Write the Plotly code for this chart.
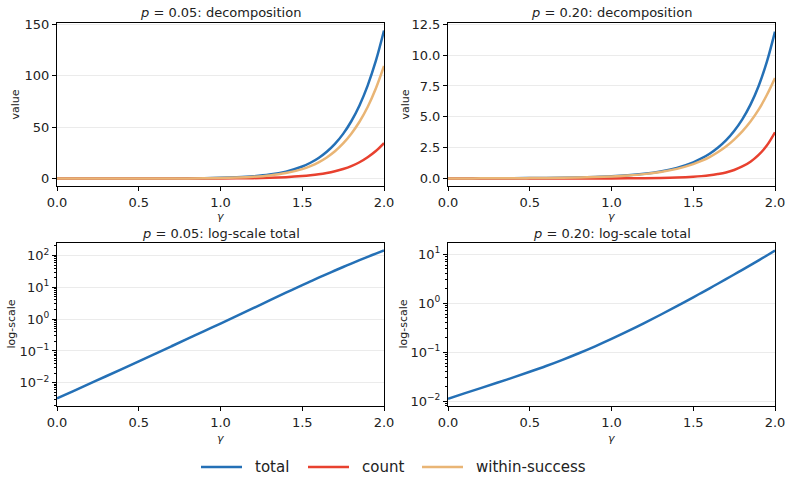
import plotly.graph_objects as go

gamma = [0.0, 0.1, 0.2, 0.3, 0.4, 0.5, 0.6, 0.7, 0.8, 0.9, 1.0,
         1.1, 1.2, 1.3, 1.4, 1.5, 1.55, 1.6, 1.65, 1.7, 1.75, 1.8, 1.85, 1.9, 1.95, 2.0]

# p = 0.05
total_05 = [0.00324, 0.00551, 0.0094, 0.01607, 0.02754, 0.0473, 0.0815, 0.1406, 0.2432, 0.4217, 0.7244,
            1.259, 2.203, 3.873, 6.776, 11.72, 15.38, 20.04, 26.06, 33.73, 43.45, 55.72, 71.12, 90.36, 114.3, 143.9]
count_05 = [0.0007, 0.0012, 0.002, 0.0035, 0.006, 0.01, 0.017, 0.029, 0.049, 0.083, 0.14,
            0.24, 0.42, 0.78, 1.42, 2.5, 3.25, 4.2, 5.5, 7.2, 9.3, 12.1, 15.9, 20.8, 26.8, 34.5]
within_05 = [0.00254, 0.00431, 0.0074, 0.01257, 0.02154, 0.0373, 0.0645, 0.1116, 0.1942, 0.3387, 0.5844,
             1.019, 1.783, 3.093, 5.356, 9.22, 12.13, 15.84, 20.56, 26.53, 34.15, 43.62, 55.22, 69.56, 87.5, 109.4]

# p = 0.20
total_20 = [0.0112, 0.01435, 0.0184, 0.02365, 0.0305, 0.0397, 0.0522, 0.0698, 0.0951, 0.1318, 0.1862,
            0.268, 0.392, 0.581, 0.871, 1.318, 1.63, 2.014, 2.50, 3.097, 3.86, 4.80, 5.99, 7.50, 9.45, 11.9]
count_20 = [0.0002, 0.0003, 0.0004, 0.0006, 0.0009, 0.0013, 0.002, 0.003, 0.0045, 0.007, 0.011,
            0.018, 0.03, 0.05, 0.085, 0.15, 0.20, 0.27, 0.37, 0.50, 0.70, 0.98, 1.37, 1.92, 2.68, 3.75]
within_20 = [0.0110, 0.01405, 0.0180, 0.02305, 0.0296, 0.0384, 0.0502, 0.0668, 0.0906, 0.1248, 0.1752,
             0.250, 0.362, 0.531, 0.786, 1.168, 1.43, 1.744, 2.13, 2.597, 3.16, 3.82, 4.62, 5.58, 6.77, 8.15]

x_ticks = [0.0, 0.5, 1.0, 1.5, 2.0]
x_ticktext = ["0.0", "0.5", "1.0", "1.5", "2.0"]
y_ticks_tl = [0, 50, 100, 150]
y_ticks_tr = [0.0, 2.5, 5.0, 7.5, 10.0, 12.5]
y_ticktext_tr = ["0.0", "2.5", "5.0", "7.5", "10.0", "12.5"]
log_ticks_bl = [0.01, 0.1, 1, 10, 100]
log_text_bl = ["10<sup>−2</sup>", "10<sup>−1</sup>", "10<sup>0</sup>", "10<sup>1</sup>", "10<sup>2</sup>"]
log_ticks_br = [0.01, 0.1, 1, 10]
log_text_br = ["10<sup>−2</sup>", "10<sup>−1</sup>", "10<sup>0</sup>", "10<sup>1</sup>"]

series_names = ["total", "count", "within-success"]
colors = {"total": "#2470b6", "count": "#e8412f", "within-success": "#e9b575"}

W, H = 790, 479
FONT = "DejaVu Sans, sans-serif"

# minor tick positions for log axes (2..9 x each decade)
minor_log_vals = [m * 10.0 ** e for e in range(-3, 3) for m in range(2, 10)]

fig = go.Figure()

def add(x, y, name, xa, ya):
    fig.add_trace(go.Scatter(x=x, y=y, mode="lines", name=name,
                             line=dict(color=colors[name], width=2.5, shape="spline", smoothing=1.0),
                             xaxis=xa, yaxis=ya, showlegend=False, legendgroup=name))

add(gamma, total_05, "total", "x", "y")
add(gamma, count_05, "count", "x", "y")
add(gamma, within_05, "within-success", "x", "y")
add(gamma, total_20, "total", "x2", "y2")
add(gamma, count_20, "count", "x2", "y2")
add(gamma, within_20, "within-success", "x2", "y2")
add(gamma, total_05, "total", "x3", "y3")
add(gamma, total_20, "total", "x4", "y4")

L = [57 / W, 384 / W]
R = [448 / W, 775 / W]
T = [1 - 186 / H, 1 - 23 / H]
B = [1 - 406 / H, 1 - 243 / H]

base_axis = dict(showline=True, linecolor="black", linewidth=1, mirror=True,
                 ticks="outside", ticklen=4, tickwidth=1, tickcolor="black",
                 tickfont=dict(family=FONT, size=13, color="#222"),
                 zeroline=False, automargin=False)

def xaxis(domain, anchor):
    return dict(base_axis, domain=domain, anchor=anchor, range=[0, 2],
                tickvals=x_ticks, ticktext=x_ticktext, showgrid=False)

def yaxis(domain, anchor, **kw):
    d = dict(base_axis, domain=domain, anchor=anchor, showgrid=True,
             gridcolor="#ebebeb", gridwidth=1)
    d.update(kw)
    return d

minor_log = dict(tickvals=minor_log_vals, ticks="outside", ticklen=2, tickwidth=0.8,
                 tickcolor="black", showgrid=False)

fig.update_layout(
    width=W, height=H,
    margin=dict(l=0, r=0, t=0, b=0),
    paper_bgcolor="white", plot_bgcolor="white",
    font=dict(family=FONT, color="#222"),
    showlegend=False,
    xaxis=xaxis(L, "y"),
    yaxis=yaxis(T, "x", range=[-7.2, 151.2], tickvals=y_ticks_tl),
    xaxis2=xaxis(R, "y2"),
    yaxis2=yaxis(T, "x2", range=[-0.6, 12.6], tickvals=y_ticks_tr, ticktext=y_ticktext_tr),
    xaxis3=xaxis(L, "y3"),
    yaxis3=yaxis(B, "x3", type="log", range=[-2.728, 2.391], tickvals=log_ticks_bl,
                 ticktext=log_text_bl, minor=minor_log),
    xaxis4=xaxis(R, "y4"),
    yaxis4=yaxis(B, "x4", type="log", range=[-2.10, 1.23], tickvals=log_ticks_br,
                 ticktext=log_text_br, minor=minor_log),
)

def ann(text, x, y, size, angle=0, xanchor="center"):
    fig.add_annotation(text=text, x=x / W, y=1 - y / H, xref="paper", yref="paper",
                       showarrow=False, xanchor=xanchor, yanchor="middle", textangle=angle,
                       font=dict(family=FONT, size=size, color="#222"))

titles = [("<i>p</i> = 0.05: decomposition", 220.5, 12),
          ("<i>p</i> = 0.20: decomposition", 611.5, 12),
          ("<i>p</i> = 0.05: log-scale total", 220.5, 233),
          ("<i>p</i> = 0.20: log-scale total", 611.5, 233)]
for t, x, y in titles:
    ann(t, x, y, 13)

for x, y in [(220.5, 216.5), (611.5, 216.5), (220.5, 438.5), (611.5, 438.5)]:
    ann("<i>γ</i>", x, y, 11)

ann("value", 15, 104.5, 11, -90)
ann("value", 405, 104.5, 11, -90)
ann("log-scale", 11, 324.5, 11, -90)
ann("log-scale", 403, 324.5, 11, -90)

# legend (drawn below the panels, matching the reference layout)
legend_x = [201, 308, 422]
LEG_Y = 467
for name, lx in zip(series_names, legend_x):
    fig.add_shape(type="line", xref="paper", yref="paper",
                  x0=lx / W, x1=(lx + 41) / W, y0=1 - LEG_Y / H, y1=1 - LEG_Y / H,
                  line=dict(color=colors[name], width=2.5))
    ann(name, lx + 52, LEG_Y, 15, xanchor="left")

fig.write_html("out.html")
